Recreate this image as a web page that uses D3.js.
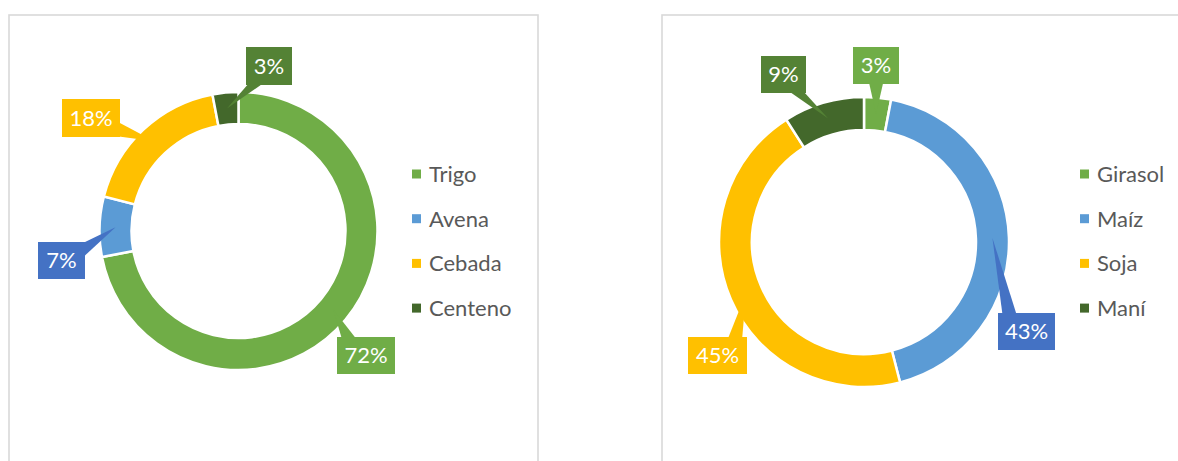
<!DOCTYPE html>
<html>
<head>
<meta charset="utf-8">
<script src="https://cdn.jsdelivr.net/npm/d3@7"></script>
<style>
  html, body { margin: 0; padding: 0; background: #fff; }
  svg { display: block; }
</style>
</head>
<body>
<svg id="chart" width="1178" height="461"></svg>
<script>
// ---- data ----
const leftCategories = ["Trigo", "Avena", "Cebada", "Centeno"];
const leftValues = [72, 7, 18, 3];
const rightCategories = ["Girasol", "Maíz", "Soja", "Maní"];
const rightValues = [3, 43, 45, 9];

// ---- styles ----
const sliceColors = ["#70AD47", "#5B9BD5", "#FFC000", "#43682B"];
const calloutColors = ["#70AD47", "#4472C4", "#FFC000", "#548235"];
const FONT = "Lato, 'Open Sans', sans-serif";

// ---- layout ----
const panels = [
  {
    categories: leftCategories, values: leftValues,
    frame: { x: 9, y: 15, w: 529, h: 470 },
    cx: 238.5, cy: 231, R: 139, r: 107,
    legendX: 412, legendY0: 174, legendStep: 44.7,
    boxes: [ {x: 337, y: 337, w: 58, h: 37}, {x: 38, y: 242, w: 47, h: 37},
             {x: 62, y: 99, w: 58, h: 38}, {x: 246, y: 47, w: 46, h: 38} ]
  },
  {
    categories: rightCategories, values: rightValues,
    frame: { x: 662, y: 15, w: 540, h: 470 },
    cx: 864, cy: 242, R: 145, r: 112,
    legendX: 1080, legendY0: 174, legendStep: 44.7,
    boxes: [ {x: 853, y: 47, w: 46, h: 37}, {x: 998, y: 313, w: 57, h: 37},
             {x: 688, y: 337, w: 59, h: 37}, {x: 761, y: 56, w: 45, h: 37} ]
  }
];

const svg = d3.select("#chart");

function wedge(box, tip) {
  const x0 = box.x, x1 = box.x + box.w, y0 = box.y, y1 = box.y + box.h;
  const dx = tip[0] < x0 ? x0 - tip[0] : (tip[0] > x1 ? tip[0] - x1 : 0);
  const dy = tip[1] < y0 ? y0 - tip[1] : (tip[1] > y1 ? tip[1] - y1 : 0);
  const hw = 7;
  let a, b;
  if (dy >= dx) {
    const ey = tip[1] < y0 ? y0 + 1 : y1 - 1;
    const c = Math.max(x0 + box.w * 0.2, Math.min(x1 - box.w * 0.2, tip[0]));
    a = [c - hw, ey]; b = [c + hw, ey];
  } else {
    const ex = tip[0] < x0 ? x0 + 1 : x1 - 1;
    const c = Math.max(y0 + box.h * 0.2, Math.min(y1 - box.h * 0.2, tip[1]));
    a = [ex, c - hw]; b = [ex, c + hw];
  }
  return [a, tip, b];
}

panels.forEach(p => {
  svg.append("rect")
    .attr("x", p.frame.x).attr("y", p.frame.y)
    .attr("width", p.frame.w).attr("height", p.frame.h)
    .attr("fill", "none").attr("stroke", "#D9D9D9").attr("stroke-width", 1.6);

  const pie = d3.pie().sort(null).value(d => d);
  const arcs = pie(p.values);
  const arc = d3.arc().innerRadius(p.r).outerRadius(p.R);

  const g = svg.append("g").attr("transform", `translate(${p.cx},${p.cy})`);
  g.selectAll("path.slice").data(arcs).join("path")
    .attr("class", "slice")
    .attr("d", arc)
    .attr("fill", (d, i) => sliceColors[i])
    .attr("stroke", "#fff").attr("stroke-width", 2.5);

  const total = d3.sum(p.values);
  arcs.forEach((d, i) => {
    const c = arc.centroid(d);
    const tip = [p.cx + c[0], p.cy + c[1]];
    const box = p.boxes[i];
    svg.append("polygon")
      .attr("points", wedge(box, tip).map(q => q.join(",")).join(" "))
      .attr("fill", calloutColors[i]);
    svg.append("rect")
      .attr("x", box.x).attr("y", box.y).attr("width", box.w).attr("height", box.h)
      .attr("fill", calloutColors[i]);
    svg.append("text")
      .attr("x", box.x + box.w / 2).attr("y", box.y + box.h / 2)
      .attr("text-anchor", "middle").attr("dy", "0.36em")
      .attr("font-family", FONT).attr("font-size", 22)
      .attr("fill", "#fff")
      .text(Math.round(p.values[i] / total * 100) + "%");
  });

  const lg = svg.append("g");
  p.categories.forEach((name, i) => {
    const y = p.legendY0 + i * p.legendStep;
    lg.append("rect")
      .attr("x", p.legendX).attr("y", y - 4.5).attr("width", 9).attr("height", 9)
      .attr("fill", sliceColors[i]);
    lg.append("text")
      .attr("x", p.legendX + 17).attr("y", y).attr("dy", "0.36em")
      .attr("font-family", FONT).attr("font-size", 22)
      .attr("fill", "#595959")
      .text(name);
  });
});
</script>
</body>
</html>
